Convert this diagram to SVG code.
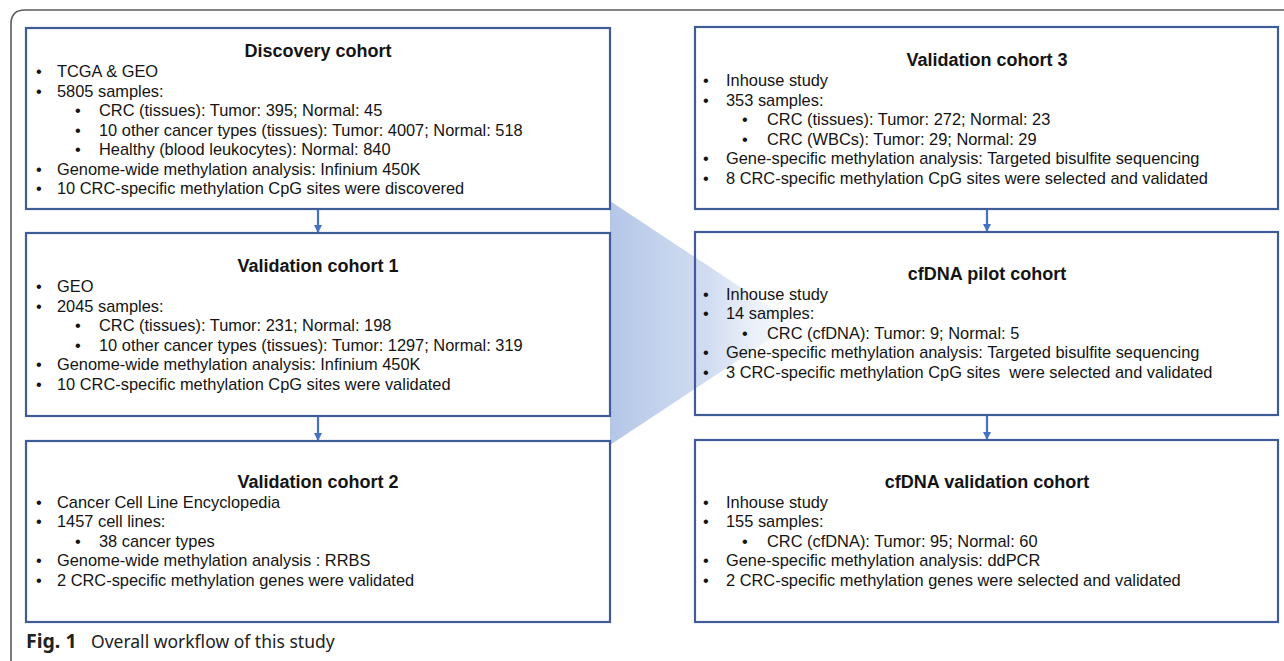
<svg xmlns="http://www.w3.org/2000/svg" width="1284" height="661" viewBox="0 0 1284 661">
<style>
.frame{fill:none;stroke:#5a5a5a;stroke-width:1.6}
.box{fill:none;stroke:#3f5c99;stroke-width:2.2}
.con{stroke:#4472c4;stroke-width:2.2;fill:none}
.t{font-family:"Liberation Sans",Arial,sans-serif;font-size:16.4px;fill:#141414;white-space:pre}
.h{font-family:"Liberation Sans",Arial,sans-serif;font-size:18px;font-weight:bold;fill:#141414;text-anchor:middle}
.cap{font-family:"Noto Sans","Open Sans",sans-serif;font-size:17.5px;fill:#222}
</style>
<defs>
<marker id="ah" viewBox="0 0 10 10" refX="10" refY="5" markerWidth="9" markerHeight="8" markerUnits="userSpaceOnUse" orient="auto">
<path d="M0,0 L10,5 L0,10 z" fill="#4472c4"/>
</marker>
<linearGradient id="zoom" x1="610" y1="0" x2="790" y2="0" gradientUnits="userSpaceOnUse">
<stop offset="0" stop-color="#b4c7e7" stop-opacity="1"/>
<stop offset="0.55" stop-color="#c9d6ef" stop-opacity="0.85"/>
<stop offset="1" stop-color="#e6ecf8" stop-opacity="0.3"/>
</linearGradient>
</defs>
<rect width="1284" height="661" fill="#ffffff"/>
<path class="frame" d="M11,661 V24 Q11,10 25,10 H1284"/>
<polygon id="zoom-shape" points="610,201 790,320 790,326 610,445" fill="url(#zoom)"/>

<g id="connectors">
<line class="con" x1="318" y1="209" x2="318" y2="233" marker-end="url(#ah)"/>
<line class="con" x1="318" y1="416" x2="318" y2="441" marker-end="url(#ah)"/>
<line class="con" x1="987" y1="209" x2="987" y2="232" marker-end="url(#ah)"/>
<line class="con" x1="987" y1="415" x2="987" y2="440" marker-end="url(#ah)"/>
</g>

<g id="discovery">
<rect class="box" x="26" y="28" width="584" height="181"/>
<text class="h" x="318" y="57">Discovery cohort</text>
<text class="t" x="36" y="77">•</text><text class="t" x="57" y="77">TCGA &amp; GEO</text>
<text class="t" x="36" y="96.5">•</text><text class="t" x="57" y="96.5">5805 samples:</text>
<text class="t" x="75" y="116">•</text><text class="t" x="99" y="116">CRC (tissues): Tumor: 395; Normal: 45</text>
<text class="t" x="75" y="135.5">•</text><text class="t" x="99" y="135.5">10 other cancer types (tissues): Tumor: 4007; Normal: 518</text>
<text class="t" x="75" y="155">•</text><text class="t" x="99" y="155">Healthy (blood leukocytes): Normal: 840</text>
<text class="t" x="36" y="174.5">•</text><text class="t" x="57" y="174.5">Genome-wide methylation analysis: Infinium 450K</text>
<text class="t" x="36" y="194">•</text><text class="t" x="57" y="194">10 CRC-specific methylation CpG sites were discovered</text>
</g>

<g id="validation1">
<rect class="box" x="26" y="233" width="584" height="183"/>
<text class="h" x="318" y="272">Validation cohort 1</text>
<text class="t" x="36" y="292">•</text><text class="t" x="57" y="292">GEO</text>
<text class="t" x="36" y="311.5">•</text><text class="t" x="57" y="311.5">2045 samples:</text>
<text class="t" x="75" y="331">•</text><text class="t" x="99" y="331">CRC (tissues): Tumor: 231; Normal: 198</text>
<text class="t" x="75" y="350.5">•</text><text class="t" x="99" y="350.5">10 other cancer types (tissues): Tumor: 1297; Normal: 319</text>
<text class="t" x="36" y="370">•</text><text class="t" x="57" y="370">Genome-wide methylation analysis: Infinium 450K</text>
<text class="t" x="36" y="389.5">•</text><text class="t" x="57" y="389.5">10 CRC-specific methylation CpG sites were validated</text>
</g>

<g id="validation2">
<rect class="box" x="26" y="441" width="584" height="181"/>
<text class="h" x="318" y="488">Validation cohort 2</text>
<text class="t" x="36" y="507.5">•</text><text class="t" x="57" y="507.5">Cancer Cell Line Encyclopedia</text>
<text class="t" x="36" y="527">•</text><text class="t" x="57" y="527">1457 cell lines:</text>
<text class="t" x="75" y="546.5">•</text><text class="t" x="99" y="546.5">38 cancer types</text>
<text class="t" x="36" y="566">•</text><text class="t" x="57" y="566">Genome-wide methylation analysis : RRBS</text>
<text class="t" x="36" y="585.5">•</text><text class="t" x="57" y="585.5">2 CRC-specific methylation genes were validated</text>
</g>

<g id="validation3">
<rect class="box" x="695" y="27" width="583" height="182"/>
<text class="h" x="987" y="66">Validation cohort 3</text>
<text class="t" x="703" y="86">•</text><text class="t" x="726" y="86">Inhouse study</text>
<text class="t" x="703" y="105.5">•</text><text class="t" x="726" y="105.5">353 samples:</text>
<text class="t" x="742" y="125">•</text><text class="t" x="767" y="125">CRC (tissues): Tumor: 272; Normal: 23</text>
<text class="t" x="742" y="144.5">•</text><text class="t" x="767" y="144.5">CRC (WBCs): Tumor: 29; Normal: 29</text>
<text class="t" x="703" y="164">•</text><text class="t" x="726" y="164">Gene-specific methylation analysis: Targeted bisulfite sequencing</text>
<text class="t" x="703" y="183.5">•</text><text class="t" x="726" y="183.5">8 CRC-specific methylation CpG sites were selected and validated</text>
</g>

<g id="cfdna-pilot">
<rect class="box" x="695" y="232" width="583" height="183"/>
<text class="h" x="987" y="280">cfDNA pilot cohort</text>
<text class="t" x="703" y="299.5">•</text><text class="t" x="726" y="299.5">Inhouse study</text>
<text class="t" x="703" y="319">•</text><text class="t" x="726" y="319">14 samples:</text>
<text class="t" x="742" y="338.5">•</text><text class="t" x="767" y="338.5">CRC (cfDNA): Tumor: 9; Normal: 5</text>
<text class="t" x="703" y="358">•</text><text class="t" x="726" y="358">Gene-specific methylation analysis: Targeted bisulfite sequencing</text>
<text class="t" x="703" y="377.5">•</text><text class="t" x="726" y="377.5" xml:space="preserve">3 CRC-specific methylation CpG sites  were selected and validated</text>
</g>

<g id="cfdna-validation">
<rect class="box" x="695" y="440" width="583" height="182"/>
<text class="h" x="987" y="488">cfDNA validation cohort</text>
<text class="t" x="703" y="507.5">•</text><text class="t" x="726" y="507.5">Inhouse study</text>
<text class="t" x="703" y="527">•</text><text class="t" x="726" y="527">155 samples:</text>
<text class="t" x="742" y="546.5">•</text><text class="t" x="767" y="546.5">CRC (cfDNA): Tumor: 95; Normal: 60</text>
<text class="t" x="703" y="566">•</text><text class="t" x="726" y="566">Gene-specific methylation analysis: ddPCR</text>
<text class="t" x="703" y="585.5">•</text><text class="t" x="726" y="585.5">2 CRC-specific methylation genes were selected and validated</text>
</g>

<g id="caption">
<text class="cap" x="26" y="648"><tspan font-weight="bold" font-size="19.5px">Fig. 1</tspan><tspan x="91">Overall workflow of this study</tspan></text>
</g>
</svg>
